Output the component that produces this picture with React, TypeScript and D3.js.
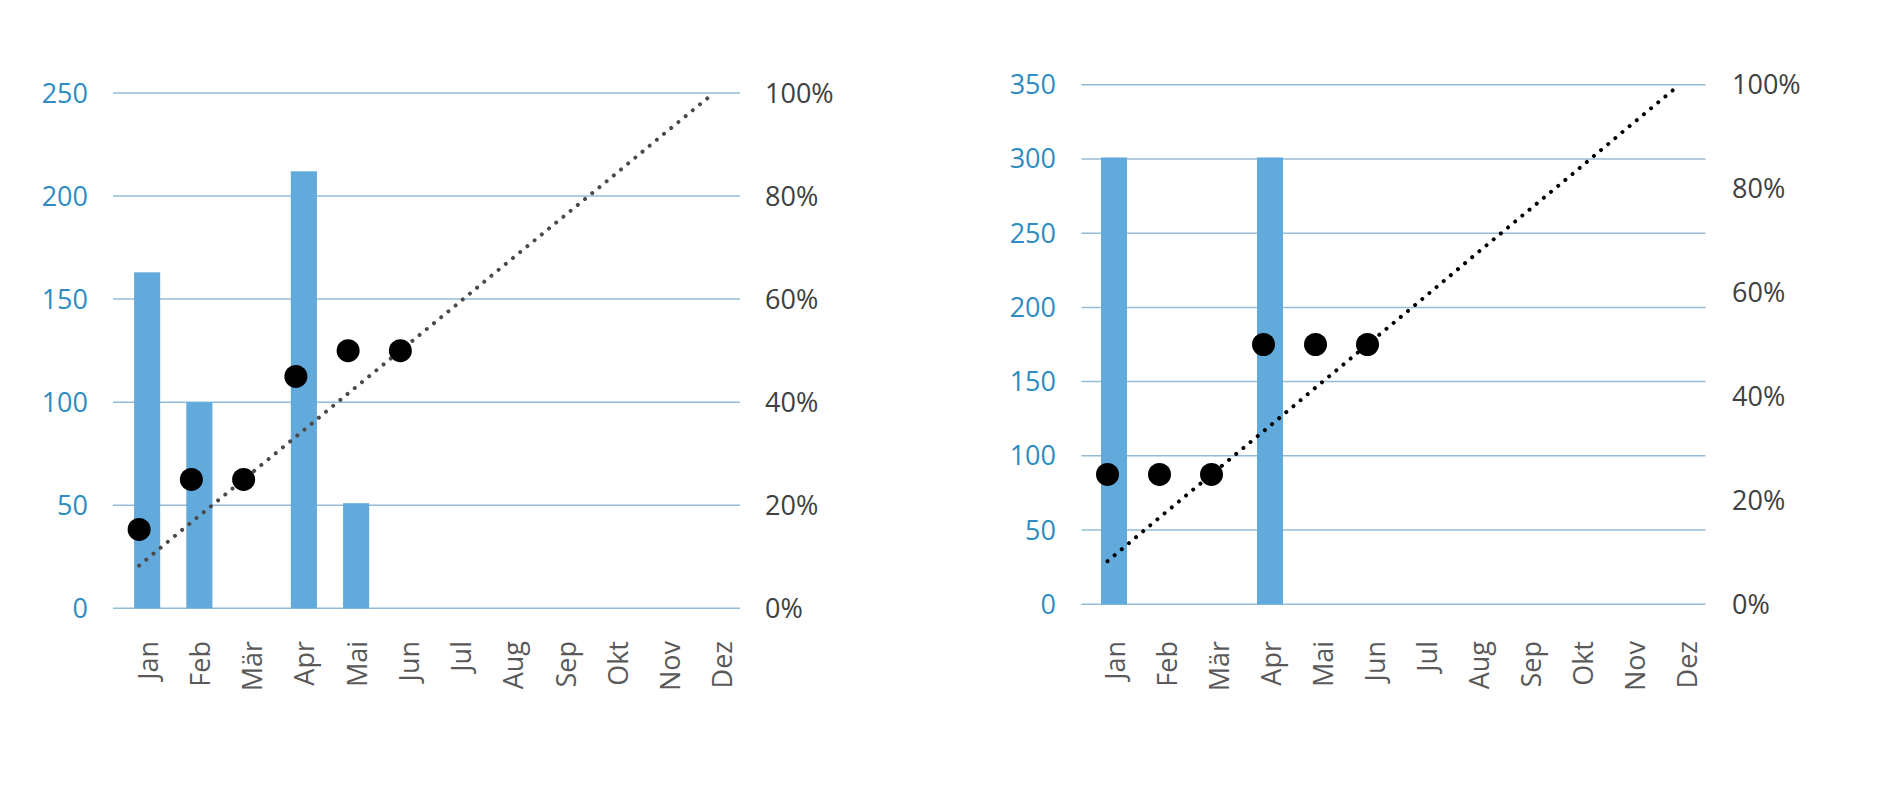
import React from 'react';
import * as d3 from 'd3';

const months = ['Jan', 'Feb', 'Mär', 'Apr', 'Mai', 'Jun', 'Jul', 'Aug', 'Sep', 'Okt', 'Nov', 'Dez'];

// left chart
const leftBars = [163, 100, 0, 212, 51, 0, 0, 0, 0, 0, 0, 0];
const leftDots = [0.153, 0.25, 0.25, 0.45, 0.5, 0.5];
const leftTicks = [0, 50, 100, 150, 200, 250];
const leftMax = 250;

// right chart
const rightBars = [301, 0, 0, 301, 0, 0, 0, 0, 0, 0, 0, 0];
const rightDots = [0.25, 0.25, 0.25, 0.5, 0.5, 0.5];
const rightTicks = [0, 50, 100, 150, 200, 250, 300, 350];
const rightMax = 350;

// target line (cumulative share per month)
const target = [0.083, 0.167, 0.25, 0.333, 0.417, 0.5, 0.583, 0.667, 0.75, 0.833, 0.917, 1.0];
const pctTicks = [0, 0.2, 0.4, 0.6, 0.8, 1.0];

const FONT = "'Open Sans', 'Noto Sans', sans-serif";

type PanelProps = {
  bars: number[];
  dots: number[];
  ticks: number[];
  max: number;
  x0: number;
  x1: number;
  barShift: number;
  yTop: number;
  yBottom: number;
  leftLabelX: number;
  rightLabelX: number;
  lineColor: string;
};

function Panel(p: PanelProps) {
  const x = d3.scaleBand<string>().domain(months).range([p.x0, p.x1]).padding(0);
  const xb = d3.scaleBand<string>().domain(months).range([p.x0 + p.barShift, p.x1 + p.barShift]).paddingInner(0.5).paddingOuter(0.25);
  const y = d3.scaleLinear().domain([0, p.max]).range([p.yBottom, p.yTop]);
  const yp = d3.scaleLinear().domain([0, 1]).range([p.yBottom, p.yTop]);
  const cx = (m: string) => (x(m) as number) + x.bandwidth() / 2;
  const line = d3.line<number>().x((_, i) => cx(months[i])).y((v) => yp(v));
  const fmtPct = d3.format('.0%');
  return (
    <g>
      {p.ticks.map((t) => (
        <line key={'g' + t} x1={p.x0} x2={p.x1} y1={y(t)} y2={y(t)} stroke="#94BCD4" strokeWidth={1.5} />
      ))}
      {p.ticks.map((t) => (
        <text key={'l' + t} x={p.leftLabelX} y={y(t) - 1} textAnchor="end" dominantBaseline="central"
          fill="#2E8CC2" fontSize={27} fontFamily={FONT}>{t}</text>
      ))}
      {pctTicks.map((t) => (
        <text key={'r' + t} x={p.rightLabelX} y={yp(t) - 1} textAnchor="start" dominantBaseline="central"
          fill="#404040" fontSize={27} fontFamily={FONT}>{fmtPct(t)}</text>
      ))}
      {p.bars.map((v, i) => v > 0 ? (
        <rect key={'b' + i} x={xb(months[i])} width={xb.bandwidth()} y={y(v)} height={y(0) - y(v)} fill="#62AADB" />
      ) : null)}
      <path d={line(target) || ''} fill="none" stroke={p.lineColor} strokeWidth={4}
        strokeLinecap="round" strokeDasharray="0.01 9.3" />
      {p.dots.map((v, i) => (
        <circle key={'d' + i} cx={cx(months[i])} cy={yp(v)} r={11.5} fill="#000" />
      ))}
      {months.map((m) => {
        const mx = (xb(m) as number) + xb.bandwidth() / 2;
        return (
          <text key={'m' + m} transform={`translate(${mx},641) rotate(-90)`} textAnchor="end"
            dominantBaseline="central" fill="#595959" fontSize={27} fontFamily={FONT}>{m}</text>
        );
      })}
    </g>
  );
}

export default function App() {
  return (
    <svg width={1878} height={786} style={{ position: 'absolute', left: 0, top: 0, background: '#fff' }}>
      <rect width={1878} height={786} fill="#fff" />
      <Panel bars={leftBars} dots={leftDots} ticks={leftTicks} max={leftMax}
        x0={113} x1={740} barShift={8} yTop={93} yBottom={608.3}
        leftLabelX={88} rightLabelX={765} lineColor="#4A4A4A" />
      <Panel bars={rightBars} dots={rightDots} ticks={rightTicks} max={rightMax}
        x0={1081.5} x1={1705.5} barShift={6.5} yTop={84.7} yBottom={604.3}
        leftLabelX={1056} rightLabelX={1732} lineColor="#000" />
    </svg>
  );
}
